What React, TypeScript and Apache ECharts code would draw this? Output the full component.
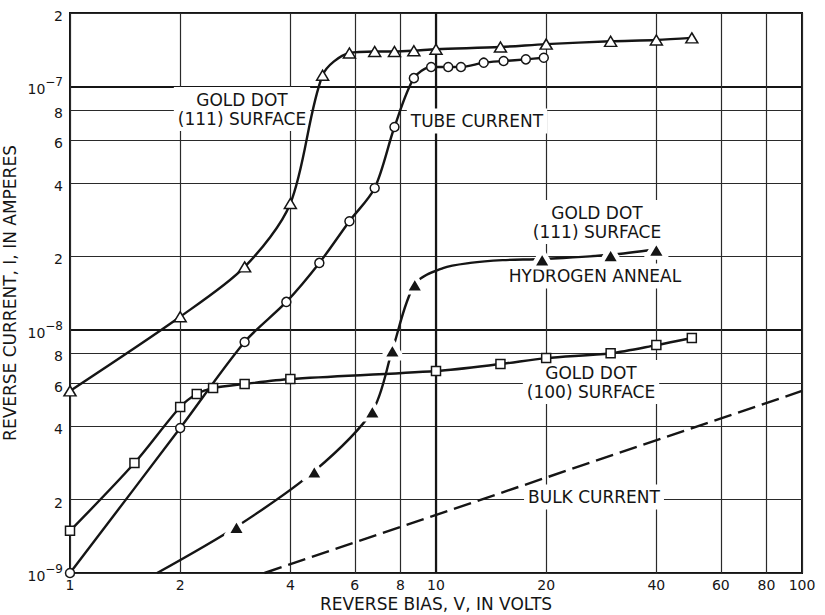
import React, { useEffect, useRef } from "react";
import * as echarts from "echarts";

// Tick positions (log-log paper)
const xTicks = [1, 2, 4, 6, 8, 10, 20, 40, 60, 80, 100];
const yTicks = [1e-9, 2e-9, 4e-9, 6e-9, 8e-9, 1e-8, 2e-8, 4e-8, 6e-8, 8e-8, 1e-7, 2e-7];
const xDecades = [10];
const yDecades = [1e-8, 1e-7];

// Gold dot, (111) surface — open triangles
const goldDot111: [number, number][] = [
  [1, 5.6e-9], [2, 1.13e-8], [3, 1.81e-8], [4, 3.3e-8], [4.9, 1.11e-7],
  [5.8, 1.37e-7], [6.8, 1.39e-7], [7.7, 1.39e-7], [8.7, 1.4e-7], [10, 1.42e-7],
  [15, 1.45e-7], [20, 1.49e-7], [30, 1.53e-7], [40, 1.55e-7], [50, 1.58e-7],
];

// Tube current — open circles
const tubeCurrent: [number, number][] = [
  [1, 1.0e-9], [2, 3.94e-9], [3, 8.9e-9], [3.9, 1.3e-8], [4.8, 1.88e-8],
  [5.8, 2.79e-8], [6.8, 3.82e-8], [7.7, 6.8e-8], [8.7, 1.08e-7], [9.7, 1.2e-7],
  [10.8, 1.2e-7], [11.7, 1.2e-7], [13.5, 1.25e-7], [15.3, 1.27e-7], [17.6, 1.29e-7],
  [19.7, 1.31e-7],
];

// Gold dot, (100) surface — open squares
const goldDot100: [number, number][] = [
  [1, 1.49e-9], [1.5, 2.83e-9], [2, 4.81e-9], [2.22, 5.44e-9], [2.46, 5.75e-9],
  [3, 5.98e-9], [4, 6.27e-9], [10, 6.76e-9], [15, 7.22e-9], [20, 7.64e-9],
  [30, 8.0e-9], [40, 8.64e-9], [50, 9.24e-9],
];

// Gold dot, (111) surface after hydrogen anneal — filled triangles
const hydrogenAnneal: [number, number][] = [
  [2.85, 1.55e-9], [4.65, 2.62e-9], [6.7, 4.63e-9], [7.6, 8.25e-9], [8.75, 1.54e-8],
  [19.5, 1.95e-8], [30, 2.03e-8], [40, 2.14e-8],
];
// points along the hand-drawn curve that carry no marker
const hydrogenAnnealTrace: [number, number][] = [
  [1.73, 1.0e-9], [10.45, 1.79e-8], [12.4, 1.88e-8], [15.2, 1.93e-8],
];

// Bulk current — dashed straight line
const bulkCurrent: [number, number][] = [
  [3.4, 1.0e-9], [100, 5.6e-9],
];

const INK = "#151515";
const FONT = '"DejaVu Sans", sans-serif';

function formatY(v: number): string {
  const e = Math.floor(Math.log10(v) + 1e-6);
  const m = Math.round(v / Math.pow(10, e));
  return m === 1 ? `{b|10}{e|\u2212${-e}}` : `{b|${m}}`;
}

function buildOption() {
  const hydrogenData = [
    ...hydrogenAnneal.map((p) => ({ value: p })),
    ...hydrogenAnnealTrace.map((p) => ({ value: p, symbol: "none" })),
  ].sort((a, b) => a.value[0] - b.value[0]);

  const curve = {
    type: "line",
    smooth: 0.3,
    clip: false,
    lineStyle: { color: INK, width: 2.4 },
    emphasis: { disabled: true },
    z: 3,
  };

  const textBox = (text: string, x: number, y: number) => ({
    type: "text",
    x,
    y,
    z: 1,
    silent: true,
    style: {
      text,
      font: `17px ${FONT}`,
      fill: INK,
      align: "center",
      verticalAlign: "middle",
      textAlign: "center",
      textVerticalAlign: "middle",
      lineHeight: 19,
      backgroundColor: "#fff",
      padding: [3, 4],
    },
  });

  const gridLine = { color: "#2a2a2a", width: 1.2 };
  const heavyLine = { color: INK, width: 2.2 };

  return {
    animation: false,
    backgroundColor: "#fff",
    grid: {
      left: 70,
      right: 23,
      top: 13,
      bottom: 42,
      show: true,
      borderColor: INK,
      borderWidth: 2,
      outerBoundsMode: "none",
    },
    xAxis: [
      {
        type: "log",
        logBase: 10,
        min: 1,
        max: 100,
        axisLine: { show: false },
        axisTick: { show: false, customValues: xTicks },
        axisLabel: {
          customValues: xTicks,
          color: INK,
          fontSize: 14,
          fontFamily: FONT,
          margin: 5,
          formatter: (v: number) => String(Math.round(v)),
        },
        splitLine: { show: true, lineStyle: gridLine },
        name: "REVERSE BIAS, V, IN VOLTS",
        nameLocation: "middle",
        nameGap: 22,
        nameMoveOverlap: false,
        nameTextStyle: { color: INK, fontSize: 17, fontFamily: FONT },
      },
      {
        type: "log",
        logBase: 10,
        min: 1,
        max: 100,
        position: "bottom",
        axisLine: { show: false },
        axisTick: { show: false, customValues: xDecades },
        axisLabel: { show: false },
        splitLine: { show: true, lineStyle: heavyLine },
      },
    ],
    yAxis: [
      {
        type: "log",
        logBase: 10,
        min: 1e-9,
        max: 2e-7,
        axisLine: { show: false },
        axisTick: { show: false, customValues: yTicks },
        axisLabel: {
          customValues: yTicks,
          margin: 7,
          formatter: formatY,
          rich: {
            b: { fontSize: 14, fontFamily: FONT, color: INK, lineHeight: 20, verticalAlign: "bottom" },
            e: { fontSize: 12, fontFamily: FONT, color: INK, lineHeight: 12, verticalAlign: "top" },
          },
        },
        splitLine: { show: true, lineStyle: gridLine },
        name: "REVERSE CURRENT, I, IN AMPERES",
        nameLocation: "middle",
        nameGap: 52,
        nameRotate: 90,
        nameMoveOverlap: false,
        nameTextStyle: { color: INK, fontSize: 17, fontFamily: FONT },
      },
      {
        type: "log",
        logBase: 10,
        min: 1e-9,
        max: 2e-7,
        axisLine: { show: false },
        axisTick: { show: false, customValues: yDecades },
        axisLabel: { show: false },
        splitLine: { show: true, lineStyle: heavyLine },
      },
    ],
    series: [
      {
        ...curve,
        name: "Gold dot (111) surface",
        data: goldDot111,
        symbol: "triangle",
        symbolSize: [12, 10],
        itemStyle: { color: "#fff", borderColor: INK, borderWidth: 1.5 },
      },
      {
        ...curve,
        name: "Tube current",
        data: tubeCurrent,
        symbol: "circle",
        symbolSize: 9,
        itemStyle: { color: "#fff", borderColor: INK, borderWidth: 1.5 },
      },
      {
        ...curve,
        name: "Gold dot (100) surface",
        data: goldDot100,
        symbol: "rect",
        symbolSize: 9,
        itemStyle: { color: "#fff", borderColor: INK, borderWidth: 1.5 },
      },
      {
        ...curve,
        name: "Gold dot (111) surface, hydrogen anneal",
        data: hydrogenData,
        symbol: "triangle",
        symbolSize: [20, 17],
        itemStyle: { color: INK, borderColor: "#fff", borderWidth: 4.5, borderJoin: "round" },
      },
      {
        type: "line",
        name: "Bulk current",
        data: bulkCurrent,
        symbol: "none",
        clip: true,
        lineStyle: { color: INK, width: 2.4, type: [18, 7] },
        emphasis: { disabled: true },
        z: 3,
      },
    ],
    graphic: [
      textBox("GOLD DOT\n(111) SURFACE", 242, 109),
      textBox("TUBE CURRENT", 477, 121),
      textBox("GOLD DOT\n(111) SURFACE", 597, 222),
      textBox("HYDROGEN ANNEAL", 595, 276),
      textBox("GOLD DOT\n(100) SURFACE", 591, 382),
      textBox("BULK CURRENT", 594, 497),
    ],
  };
}

export default function App() {
  const ref = useRef<HTMLDivElement>(null);
  useEffect(() => {
    if (!ref.current) return;
    const chart = echarts.init(ref.current, undefined, { renderer: "svg" });
    chart.setOption(buildOption() as any);
    return () => chart.dispose();
  }, []);
  return (
    <div
      ref={ref}
      style={{ position: "absolute", left: 0, top: 0, width: 825, height: 615, background: "#fff" }}
    />
  );
}
